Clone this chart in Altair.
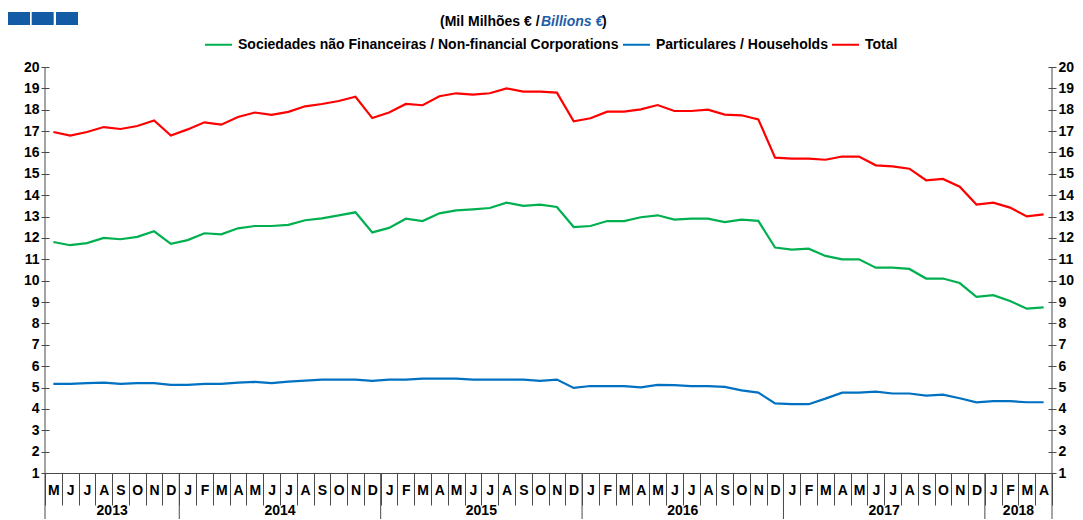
import json
import altair as alt
import pandas as pd

# ---------------- data ----------------
year_labels = ["2013", "2014", "2015", "2016", "2017", "2018"]
year_months = [
    ["M", "J", "J", "A", "S", "O", "N", "D"],
    ["J", "F", "M", "A", "M", "J", "J", "A", "S", "O", "N", "D"],
    ["J", "F", "M", "A", "M", "J", "J", "A", "S", "O", "N", "D"],
    ["J", "F", "M", "A", "M", "J", "J", "A", "S", "O", "N", "D"],
    ["J", "F", "M", "A", "M", "J", "J", "A", "S", "O", "N", "D"],
    ["J", "F", "M", "A"],
]

series_names = [
    "Sociedades não Financeiras / Non-financial Corporations",
    "Particulares / Households",
    "Total",
]
series_colors = ["#00b050", "#0070c0", "#ff0000"]

corporations = [
    11.81, 11.66, 11.76, 12.00, 11.94, 12.05, 12.31, 11.72,
    11.90, 12.22, 12.17, 12.45, 12.56, 12.56, 12.61, 12.83, 12.92, 13.06, 13.20, 12.26,
    12.47, 12.90, 12.79, 13.15, 13.29, 13.34, 13.40, 13.65, 13.50, 13.56, 13.45, 12.51,
    12.56, 12.79, 12.79, 12.97, 13.06, 12.86, 12.90, 12.90, 12.74, 12.86, 12.80, 11.55,
    11.45, 11.50, 11.16, 11.00, 11.00, 10.61, 10.61, 10.55, 10.10, 10.10, 9.89, 9.24,
    9.32, 9.05, 8.69, 8.75,
]
households = [
    5.17, 5.17, 5.21, 5.23, 5.17, 5.21, 5.21, 5.12,
    5.12, 5.17, 5.17, 5.23, 5.26, 5.21, 5.28, 5.32, 5.37, 5.37, 5.37, 5.31,
    5.37, 5.37, 5.42, 5.42, 5.42, 5.37, 5.37, 5.37, 5.37, 5.31, 5.37, 4.98,
    5.07, 5.07, 5.07, 5.01, 5.12, 5.11, 5.07, 5.07, 5.03, 4.87, 4.76, 4.26,
    4.22, 4.22, 4.48, 4.76, 4.76, 4.81, 4.72, 4.72, 4.62, 4.67, 4.50, 4.31,
    4.36, 4.36, 4.31, 4.31,
]
total = [
    16.96, 16.79, 16.96, 17.19, 17.10, 17.24, 17.50, 16.79,
    17.08, 17.41, 17.30, 17.66, 17.87, 17.76, 17.90, 18.16, 18.27, 18.41, 18.61, 17.61,
    17.87, 18.27, 18.21, 18.63, 18.77, 18.71, 18.77, 19.00, 18.85, 18.85, 18.80, 17.46,
    17.60, 17.91, 17.91, 18.02, 18.22, 17.94, 17.94, 18.00, 17.77, 17.74, 17.55, 15.76,
    15.71, 15.71, 15.66, 15.81, 15.81, 15.40, 15.35, 15.24, 14.70, 14.76, 14.40, 13.56,
    13.65, 13.42, 13.01, 13.10,
]

y_ticks = list(range(1, 21))

# ---------------- tables ----------------
month_letters = [m for ms in year_months for m in ms]
n = len(month_letters)
rows = []
for name, vals in zip(series_names, [corporations, households, total]):
    for i, v in enumerate(vals):
        rows.append({"idx": i, "series": name, "value": v})
df = pd.DataFrame(rows)

starts, centers = [], []
pos = 0
for ms in year_months:
    starts.append(pos)
    centers.append(pos + len(ms) // 2)
    pos += len(ms)
year_df = pd.DataFrame({"idx": centers, "year": year_labels})
sep_df = pd.DataFrame({"idx": starts[1:]})

# ---------------- styling ----------------
W, H = 1007, 406
PAD = {"left": 37, "top": 59, "right": 22, "bottom": 46}
FONT = "Liberation Sans"
AX = "#4a4a4a"

xscale = alt.Scale(type="band", domain=list(range(n)), paddingInner=0, paddingOuter=0)
yscale = alt.Scale(domain=[1, 20], nice=False, zero=False)

x_axis = alt.Axis(
    title=None, tickBand="extent", tickSize=32, tickColor=AX, domainColor=AX,
    labelExpr=json.dumps(month_letters) + "[datum.value]",
    labelAngle=0, labelFont=FONT, labelFontSize=14, labelFontWeight="bold",
    labelColor="black", labelBaseline="middle", labelPadding=-15,
    labelOverlap=False, labelFlush=False, labelBound=False, grid=False,
)


def X(bp):
    return alt.X("idx:O", scale=xscale, bandPosition=bp, axis=x_axis)


def y_axis(orient):
    return alt.Axis(
        title=None, orient=orient, values=y_ticks, offset=-4, tickSize=8,
        tickColor=AX, domain=False, labelPadding=2, labelFont=FONT,
        labelFontSize=14, labelFontWeight="bold", labelColor="black", grid=False,
    )


color = alt.Color(
    "series:N",
    scale=alt.Scale(domain=series_names, range=series_colors),
    legend=alt.Legend(
        title=None, orient="none", legendX=159, legendY=-37, direction="horizontal",
        symbolType="stroke", symbolStrokeWidth=2, symbolSize=729,
        labelFont=FONT, labelFontSize=14, labelFontWeight="bold", labelColor="black",
        labelLimit=0, labelOffset=5, columnPadding=0,
    ),
    sort=series_names,
)

base = alt.Chart(df)
lines = base.mark_line(strokeWidth=2.2).encode(
    x=X(0.5),
    y=alt.Y("value:Q", scale=yscale, axis=y_axis("left")),
    color=color,
)
right_axis = base.mark_point(opacity=0).encode(
    x=X(0.5),
    y=alt.Y("value:Q", scale=yscale, axis=y_axis("right")),
)

one = alt.Data(values=[{"a": 1}])
left_line = alt.Chart(one).mark_rule(color=AX, strokeWidth=1).encode(
    x=alt.value(0), y=alt.value(0), y2=alt.value(H + 50))
right_line = alt.Chart(one).mark_rule(color=AX, strokeWidth=1).encode(
    x=alt.value(W), y=alt.value(0), y2=alt.value(H + 50))

year_seps = alt.Chart(sep_df).mark_rule(color=AX, strokeWidth=1).encode(
    x=X(0), y=alt.value(H), y2=alt.value(H + 50),
)
year_text = alt.Chart(year_df).mark_text(
    font=FONT, fontSize=14, fontWeight="bold", color="black", baseline="middle"
).encode(
    x=X(0),
    y=alt.value(H + 38),
    text="year:N",
)

sq_color = "#135ca5"
squares = [
    alt.Chart(one).mark_rect(color=sq_color).encode(
        x=alt.value(x0), x2=alt.value(x0 + 22), y=alt.value(-55), y2=alt.value(-42))
    for x0 in (-37, -13.3, 11)
]

sub1 = alt.Chart(one).mark_text(
    font=FONT, fontSize=14, fontWeight="bold", color="black", align="left", baseline="middle"
).encode(x=alt.value(395), y=alt.value(-45), text=alt.value("(Mil Milhões € /"))
sub2 = alt.Chart(one).mark_text(
    font=FONT, fontSize=14, fontWeight="bold", fontStyle="italic", color="#1f5ea8",
    align="left", baseline="middle"
).encode(x=alt.value(496), y=alt.value(-45), text=alt.value("Billions  €"))
sub3 = alt.Chart(one).mark_text(
    font=FONT, fontSize=14, fontWeight="bold", color="black", align="left", baseline="middle"
).encode(x=alt.value(557), y=alt.value(-45), text=alt.value(")"))

chart = alt.layer(
    lines, right_axis, left_line, right_line, year_seps, year_text,
    *squares, sub1, sub2, sub3,
).resolve_axis(y="independent").properties(
    width=W, height=H,
    padding=PAD,
    autosize=alt.AutoSizeParams(type="none"),
).configure_view(stroke=None)

chart.save("out.html", embed_options={"renderer": "svg", "actions": False})
